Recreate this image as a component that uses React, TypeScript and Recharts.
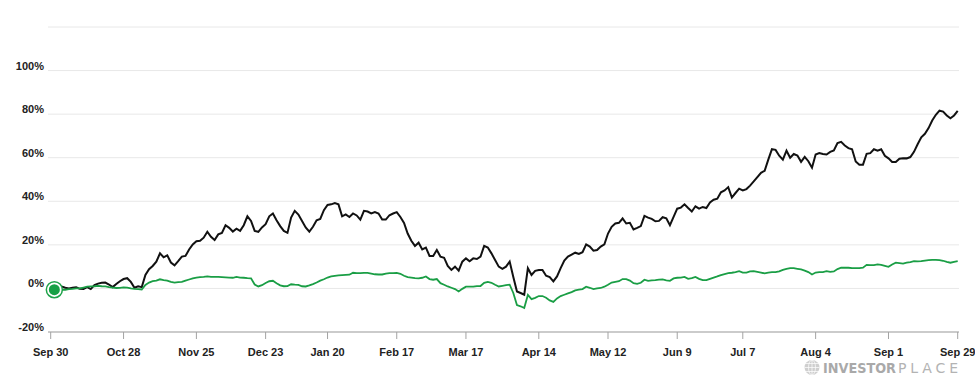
import React from "react";
import { LineChart, Line, XAxis, YAxis, CartesianGrid } from "recharts";

const stockPct: number[] = [
  0, -0.3, 0.5, 0.9, 0.3, 0, 0.3, 0.5, -0.2, -0.3,
  0.6, -0.3, 1.5, 2.2, 2.6, 2.7, 1.8, 0.6, 2.0, 3.3,
  4.3, 4.7, 3.0, 0.3, 1.0, 0.6, 6.2, 8.8, 10.3, 12.3,
  16.1, 14.3, 15.2, 11.9, 10.6, 12.5, 14.6, 14.9, 17.9, 20.2,
  21.7, 21.9, 23.3, 26.0, 23.7, 22.2, 24.8, 25.5, 29.0, 27.8,
  26.1, 27.4, 26.4, 29.0, 33.1, 31.0, 26.4, 26.0, 28.0, 29.5,
  33.1, 34.4, 31.3, 28.6, 26.4, 25.5, 32.5, 35.6, 33.9, 31.0,
  28.0, 26.1, 28.3, 31.3, 31.9, 35.9, 38.3, 38.6, 39.2, 38.6,
  33.1, 34.0, 32.8, 34.4, 33.5, 31.6, 35.6, 35.3, 34.4, 35.0,
  34.4, 31.6, 31.6, 33.6, 34.4, 35.0, 32.8, 30.1, 25.2, 21.9,
  19.5, 21.0, 17.9, 18.7, 14.9, 14.9, 17.6, 14.6, 14.1, 10.3,
  8.5, 10.0, 8.2, 12.3, 13.8, 12.5, 13.8, 13.5, 14.6, 19.5,
  18.8, 16.1, 13.1, 10.0, 9.0, 10.0, 12.3, 5.2, -1.4, -2.1,
  -2.9, 9.3, 6.2, 8.1, 8.5, 8.5, 5.8, 5.2, 3.2, 5.5,
  9.3, 12.8, 14.6, 15.5, 16.4, 15.8, 16.6, 20.2, 19.2, 17.3,
  17.6, 19.2, 20.2, 25.2, 28.3, 29.8, 30.1, 32.1, 29.8, 30.1,
  27.1, 27.8, 28.6, 33.3, 32.5, 31.9, 30.8, 31.0, 32.7, 32.2,
  29.0, 32.8, 36.6, 37.1, 38.6, 36.9, 35.3, 37.7, 36.6, 37.4,
  36.9, 39.5, 40.7, 41.2, 44.1, 45.0, 46.5, 41.7, 43.8, 45.8,
  45.0, 45.6, 47.2, 49.1, 51.1, 53.1, 54.0, 59.1, 63.9, 63.6,
  60.9, 59.1, 63.2, 60.0, 61.7, 61.0, 58.1, 60.4, 58.4, 55.4,
  61.5, 62.1, 61.7, 61.5, 62.7, 63.3, 66.7, 67.3, 65.6, 64.4,
  63.9, 58.3, 56.8, 56.8, 61.8, 62.1, 63.9, 63.2, 63.9, 60.9,
  59.7, 58.0, 58.0, 59.5, 59.8, 59.7, 60.3, 62.7, 66.2, 69.4,
  71.0, 73.6, 77.1, 79.7, 81.6, 81.2, 79.4, 78.1, 79.4, 81.5,
];

const indexPct: number[] = [
  0, -0.6, -0.5, -0.6, -0.6, -0.3, -0.2, 0, 0, 0.4,
  0.8, 0.9, 1.0, 1.2, 1.0, 0.9, 0.6, 0.4, 0.2, 0.3,
  0.5, 0.4, 0, -0.2, -0.3, -0.5, 1.6, 2.7, 3.3, 3.6,
  4.2, 3.8, 3.6, 3.0, 2.7, 2.9, 3.0, 3.6, 4.1, 4.6,
  5.0, 5.2, 5.3, 5.5, 5.3, 5.3, 5.3, 5.2, 5.1, 5.0,
  4.9, 5.3, 5.0, 4.9, 4.7, 4.6, 1.8, 0.9, 1.5, 2.5,
  3.3, 3.5, 2.4, 1.4, 1.0, 1.1, 1.9, 1.7, 1.6, 1.0,
  0.9, 1.4, 2.0, 2.7, 3.6, 4.2, 5.0, 5.5, 5.8, 6.0,
  6.1, 6.2, 6.3, 7.2, 7.0, 7.0, 7.1, 7.1, 6.8, 6.5,
  6.4, 6.4, 6.8, 7.0, 7.0, 7.1, 6.7, 5.8, 5.2, 5.0,
  4.7, 4.6, 4.9, 5.5, 4.3, 4.0, 4.3, 2.4, 1.7, 0.9,
  0.3, -0.3, -1.4, -0.2, 0.8, 0.8, 0.8, 1.1, 1.1, 2.6,
  3.0, 2.6, 1.7, 0.9, 1.2, 1.5, 1.7, -2.1, -7.6, -8.2,
  -9.0, -3.0, -4.9, -4.3, -3.5, -3.5, -4.3, -5.5, -6.2, -4.6,
  -3.5, -2.9, -2.3, -1.7, -0.9, -0.6, -0.3, 0.8, 0.3, -0.3,
  0, 0.2, 0.8, 1.7, 2.7, 3.0, 3.3, 4.3, 4.3, 3.6,
  2.4, 2.1, 2.6, 4.0, 3.5, 3.7, 3.8, 4.0, 4.1, 3.7,
  3.5, 4.6, 4.9, 5.0, 5.3, 4.4, 4.7, 5.3, 4.4, 3.8,
  3.8, 4.4, 5.0, 5.5, 6.1, 6.6, 7.0, 7.2, 7.5, 7.9,
  7.3, 7.3, 7.8, 7.9, 7.6, 7.3, 6.9, 7.3, 7.5, 7.5,
  7.8, 8.5, 9.0, 9.3, 9.3, 9.0, 8.7, 8.2, 7.5, 6.4,
  7.3, 7.5, 7.5, 7.9, 7.6, 7.8, 8.9, 9.5, 9.5, 9.5,
  9.3, 9.3, 9.3, 9.5, 10.8, 10.7, 10.7, 11.0, 10.8, 10.4,
  9.9, 11.0, 11.8, 11.6, 11.4, 11.8, 12.1, 12.5, 12.4, 12.5,
  12.8, 13.0, 13.1, 13.1, 13.0, 12.7, 12.2, 11.8, 12.2, 12.5,
];

const tickIndices: number[] = [0, 20, 40, 59, 76, 95, 114, 134, 153, 172, 190, 210, 230, 249];
const tickLabels: string[] = [
  "Sep 30", "Oct 28", "Nov 25", "Dec 23", "Jan 20", "Feb 17", "Mar 17",
  "Apr 14", "May 12", "Jun 9", "Jul 7", "Aug 4", "Sep 1", "Sep 29",
];
const yTicks: number[] = [-20, 0, 20, 40, 60, 80, 100, 120];
const markerIndex = 1;

const data = stockPct.map((v, i) => ({ i, stock: v, index: indexPct[i] }));

const FONT = "'Liberation Sans', Arial, Helvetica, sans-serif";

const XTick = (props: any) => {
  const { x, y, payload } = props;
  const k = tickIndices.indexOf(payload.value);
  if (k < 0) return null;
  return (
    <g>
      <line x1={x} x2={x} y1={y} y2={y + 7} stroke="#a3a3a3" strokeWidth={1} />
      <text x={x} y={y + 24} textAnchor="middle" fontFamily={FONT} fontSize={11} fontWeight="bold" fill="#222">
        {tickLabels[k]}
      </text>
    </g>
  );
};

const YTick = (props: any) => {
  const { x, y, payload } = props;
  if (payload.value === 120) return null;
  return (
    <text x={x} y={y - 1} textAnchor="end" fontFamily={FONT} fontSize={11} fontWeight="bold" fill="#222">
      {`${payload.value}%`}
    </text>
  );
};

const StartDot = (props: any) => {
  const { cx, cy, index } = props;
  if (index !== markerIndex) return <g key={`d${index}`} />;
  return (
    <g key={`d${index}`}>
      <circle cx={cx} cy={cy} r={8} fill="#fff" stroke="#1fa34a" strokeWidth={1.5} />
      <circle cx={cx} cy={cy} r={5.5} fill="#17a045" />
    </g>
  );
};

export default function App() {
  return (
    <div style={{ position: "absolute", left: 0, top: 0, width: 975, height: 390, background: "#fff" }}>
      <LineChart width={975} height={390} data={data} margin={{ top: 27, right: 16, bottom: 28, left: 0 }}>
        <CartesianGrid vertical={false} stroke="#e8e8e8" strokeWidth={1} />
        <XAxis
          dataKey="i"
          type="category"
          interval={0}
          tick={XTick}
          tickLine={false}
          tickSize={0}
          tickMargin={0}
          height={30}
          axisLine={{ stroke: "#a3a3a3", strokeWidth: 1 }}
          padding={{ left: 2.7, right: 1.3 }}
        />
        <YAxis
          type="number"
          domain={[-20, 120]}
          ticks={yTicks}
          interval={0}
          tick={YTick}
          tickLine={false}
          axisLine={false}
          tickSize={0}
          tickMargin={4}
          width={48}
        />
        <Line
          dataKey="stock"
          stroke="#111111"
          strokeWidth={2}
          dot={false}
          activeDot={false}
          isAnimationActive={false}
          type="linear"
        />
        <Line
          dataKey="index"
          stroke="#1a9e45"
          strokeWidth={1.8}
          dot={StartDot}
          activeDot={false}
          isAnimationActive={false}
          type="linear"
        />
      </LineChart>
      <svg width={975} height={390} style={{ position: "absolute", left: 0, top: 0, pointerEvents: "none" }}>
        <g>
          <circle cx={812} cy={367.5} r={7.5} fill="#cfcfcf" />
          <ellipse cx={812} cy={367.5} rx={3.5} ry={7.5} fill="none" stroke="#fff" strokeWidth={0.7} />
          <line x1={804.5} x2={819.5} y1={367.5} y2={367.5} stroke="#fff" strokeWidth={0.7} />
          <line x1={805.5} x2={818.5} y1={363.5} y2={363.5} stroke="#fff" strokeWidth={0.7} />
          <line x1={805.5} x2={818.5} y1={371.5} y2={371.5} stroke="#fff" strokeWidth={0.7} />
          <line x1={812} x2={812} y1={360} y2={375} stroke="#fff" strokeWidth={0.7} />
        </g>
        <text x={823} y={373} fontFamily="'DejaVu Sans', sans-serif" fontSize={13.5} fontWeight="bold" fill="#a9a9a9" textLength={73} lengthAdjust="spacingAndGlyphs">
          INVESTOR
        </text>
        <text x={898} y={373} fontFamily="'DejaVu Sans', sans-serif" fontSize={14} fill="#b3b3b3" textLength={60} lengthAdjust="spacing">
          PLACE
        </text>
      </svg>
    </div>
  );
}
